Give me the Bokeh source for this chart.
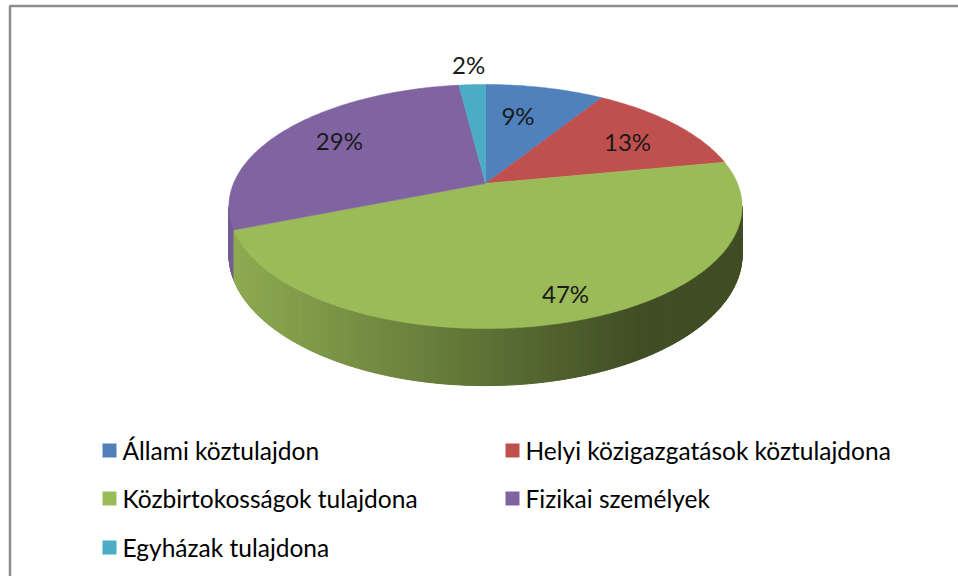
import numpy as np
from bokeh.plotting import figure
from bokeh.models import Range1d
from bokeh.core.properties import value
from bokeh.embed import file_html
from bokeh.resources import INLINE

# ---- data ----
categories = ["Állami köztulajdon", "Helyi közigazgatások köztulajdona",
              "Közbirtokosságok tulajdona", "Fizikai személyek", "Egyházak tulajdona"]
shares = [9, 13, 47, 29, 2]
labels = ["9%", "13%", "47%", "29%", "2%"]
colors = ["#4F81BD", "#C0504D", "#9BBB59", "#8064A2", "#4BACC6"]

# ---- layout / style parameters ----
FONT = "Lato"
CX, CY = 485.0, 183.0     # pie centre (page px)
RB, RA = 252.0, 117.7     # horizontal / vertical radii
KP = 0.1885               # perspective factor
TH = 46.3                 # depth
label_r = [0.664, 0.715, 0.842, 0.736, 1.252]      # label radius (fraction)
label_dphi = [3.6, -1.9, 2.5, -1.6, 0.2]           # label angle tweak (deg)

W, H = 958, 576
p = figure(width=W, height=H, output_backend="svg", toolbar_location=None,
           x_range=Range1d(0, W), y_range=Range1d(H, 0),
           min_border=0, outline_line_color=None, background_fill_color="white",
           border_fill_color="white")
p.axis.visible = False
p.grid.visible = False


def proj(u, v, drop=0.0):
    d = 1 + KP * v
    return CX + RB * u / d, CY - RA * v / d + drop * TH / d


total = float(sum(shares))
cum = np.concatenate([[0], np.cumsum(shares)]) / total
# start at 12 o'clock, clockwise
angles = [(np.pi / 2 - 2 * np.pi * cum[i], np.pi / 2 - 2 * np.pi * cum[i + 1]) for i in range(len(shares))]


def hex2rgb(h):
    h = h.lstrip("#")
    return [int(h[i:i + 2], 16) for i in (0, 2, 4)]


def shade(h, f):
    r, g, b = hex2rgb(h)
    return "#%02x%02x%02x" % (int(r * f), int(g * f), int(b * f))


# ---- side (rim) ----
s = np.arcsin(KP)
phi_vis = np.linspace(np.pi + s, 2 * np.pi - s, 260)
xs_side, ys_side, cs_side = [], [], []
for i in range(len(phi_vis) - 1):
    a0, a1 = phi_vis[i], phi_vis[i + 1] + 0.002
    am = 0.5 * (phi_vis[i] + phi_vis[i + 1])
    idx = None
    for j, (st, en) in enumerate(angles):
        for off in (0, -2 * np.pi, 2 * np.pi):
            if en <= am + off <= st:
                idx = j
        if idx is not None:
            break
    if idx is None:
        continue
    x0t, y0t = proj(np.cos(a0), np.sin(a0))
    x1t, y1t = proj(np.cos(a1), np.sin(a1))
    x0b, y0b = proj(np.cos(a0), np.sin(a0), 1)
    x1b, y1b = proj(np.cos(a1), np.sin(a1), 1)
    xm = 0.5 * (x0t + x1t)
    t = (xm - (CX - RB)) / (2 * RB)
    f = max(0.42, 0.92 - 0.62 * t)
    xs_side.append([x0t, x1t, x1b, x0b])
    ys_side.append([y0t, y1t, y1b, y0b])
    cs_side.append(shade(colors[idx], f))
p.patches(xs_side, ys_side, fill_color=cs_side, line_color=cs_side, line_width=1)

# ---- top faces ----
for (st, en), col in zip(angles, colors):
    n = max(4, int(abs(st - en) / (2 * np.pi) * 400))
    ph = np.linspace(st, en, n)
    px, py = proj(np.cos(ph), np.sin(ph))
    xs = [CX] + list(px)
    ys = [CY] + list(py)
    p.patch(xs, ys, fill_color=col, line_color=col, line_width=0.5)

# ---- data labels ----
lx, ly = [], []
for (st, en), r, dp in zip(angles, label_r, label_dphi):
    m = 0.5 * (st + en) + np.radians(dp)
    x, y = proj(r * np.cos(m), r * np.sin(m))
    lx.append(x)
    ly.append(y)
p.text(lx, ly, text=labels, text_font=value(FONT), text_font_size="24px",
       text_color="#1a1a1a", text_align="center", text_baseline="middle")

# ---- legend ----
col_x = [102, 505]
row_y = [450, 498, 547]
leg_x = [col_x[i % 2] for i in range(len(categories))]
leg_y = [row_y[i // 2] for i in range(len(categories))]
p.rect([x + 7 for x in leg_x], leg_y, width=14, height=14, fill_color=colors, line_color=None)
p.text([x + 20 for x in leg_x], leg_y, text=categories, text_font=value(FONT),
       text_font_size="24.5px", text_color="#000000", text_align="left", text_baseline="middle")

# ---- chart frame ----
p.line([9.5, 9.5, 990], [600, 5.5, 5.5], line_color="#8c8c8c", line_width=2.5)

open("out.html", "w").write(file_html(p, INLINE))
